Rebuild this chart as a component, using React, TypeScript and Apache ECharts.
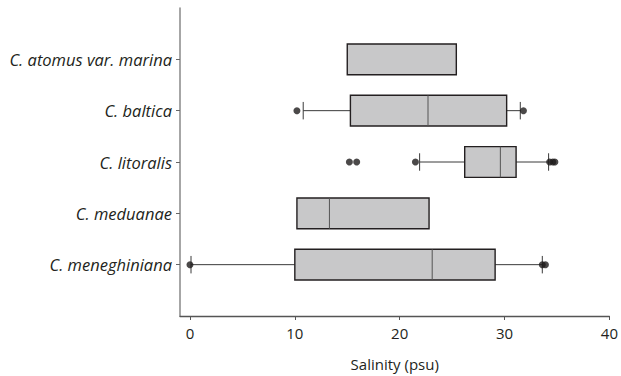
import React, { useEffect, useRef } from "react";
import * as echarts from "echarts";

const categories = [
  "C. meneghiniana",
  "C. meduanae",
  "C. litoralis",
  "C. baltica",
  "C. atomus var. marina",
];
const categoryPositions = [1, 2, 3, 4, 5];
// [position, whiskerLow, q1, median, q3, whiskerHigh]
const boxes: (number | null)[][] = [
  [1, 0.1, 10.0, 23.1, 29.1, 33.6],
  [2, 10.2, 10.2, 13.3, 22.8, 22.8],
  [3, 21.9, 26.2, 29.6, 31.1, 34.2],
  [4, 10.8, 15.3, 22.7, 30.2, 31.5],
  [5, 15.0, 15.0, null, 25.4, 25.4],
];
// [value, position]
const outliers = [
  [0.0, 1], [33.6, 1], [33.9, 1],
  [21.5, 3], [15.2, 3], [15.9, 3], [34.3, 3], [34.6, 3], [34.8, 3],
  [10.2, 4], [31.8, 4],
];
const xTicks = [0, 10, 20, 30, 40];
const xTitle = "Salinity (psu)";

const FONT = "'Open Sans', 'Noto Sans', sans-serif";
const TEXT = "#231f20";

export default function App() {
  const ref = useRef<HTMLDivElement>(null);
  useEffect(() => {
    if (!ref.current) return;
    document.body.style.margin = "0";
    const chart = echarts.init(ref.current, null, { renderer: "svg" });
    const boxHalf = 0.3;
    const capHalf = 0.17;
    chart.setOption({
      animation: false,
      grid: { left: 180, right: 10, top: 8, bottom: 54 },
      xAxis: {
        type: "value",
        min: -0.95,
        max: 40,
        name: xTitle,
        nameLocation: "middle",
        nameGap: 40,
        nameTextStyle: { fontFamily: FONT, fontSize: 15, color: TEXT },
        axisLine: { show: true, lineStyle: { color: "#555", width: 1.3 } },
        axisTick: { show: true, length: 4, customValues: xTicks, lineStyle: { color: "#555" } },
        axisLabel: { customValues: xTicks, fontFamily: FONT, fontSize: 15, color: TEXT, margin: 9 },
        splitLine: { show: false },
      },
      yAxis: {
        type: "value",
        min: 0,
        max: 6,
        axisLine: { show: true, onZero: false, lineStyle: { color: "#888", width: 1.5 } },
        axisTick: { show: true, length: 4, customValues: categoryPositions, lineStyle: { color: "#666" } },
        axisLabel: {
          customValues: categoryPositions,
          formatter: (v: number) => categories[Math.round(v) - 1] ?? "",
          fontFamily: FONT,
          fontStyle: "italic",
          fontSize: 16.5,
          color: TEXT,
          margin: 8,
        },
        splitLine: { show: false },
      },
      series: [
        {
          type: "custom",
          data: boxes,
          encode: { x: [1, 2, 3, 4, 5], y: 0 },
          renderItem: (params: any, api: any) => {
            const pos = api.value(0);
            const lo = api.value(1);
            const q1 = api.value(2);
            const med = api.value(3);
            const q3 = api.value(4);
            const hi = api.value(5);
            const pLo = api.coord([lo, pos]);
            const pQ1 = api.coord([q1, pos]);
            const pQ3 = api.coord([q3, pos]);
            const pHi = api.coord([hi, pos]);
            const top = api.coord([q1, pos + boxHalf])[1];
            const bot = api.coord([q1, pos - boxHalf])[1];
            const capT = api.coord([q1, pos + capHalf])[1];
            const capB = api.coord([q1, pos - capHalf])[1];
            const children: any[] = [];
            const wStyle = { stroke: "#3a3a3a", lineWidth: 1 };
            if (lo < q1) {
              children.push({ type: "line", shape: { x1: pLo[0], y1: pLo[1], x2: pQ1[0], y2: pQ1[1] }, style: wStyle });
              children.push({ type: "line", shape: { x1: pLo[0], y1: capT, x2: pLo[0], y2: capB }, style: wStyle });
            }
            if (hi > q3) {
              children.push({ type: "line", shape: { x1: pQ3[0], y1: pQ3[1], x2: pHi[0], y2: pHi[1] }, style: wStyle });
              children.push({ type: "line", shape: { x1: pHi[0], y1: capT, x2: pHi[0], y2: capB }, style: wStyle });
            }
            children.push({
              type: "rect",
              shape: { x: pQ1[0], y: top, width: pQ3[0] - pQ1[0], height: bot - top },
              style: { fill: "#c8c8c9", stroke: "#231f20", lineWidth: 1.4 },
            });
            if (med != null && !isNaN(med)) {
              const pm = api.coord([med, pos]);
              children.push({ type: "line", shape: { x1: pm[0], y1: top, x2: pm[0], y2: bot }, style: { stroke: "#555", lineWidth: 1 } });
            }
            return { type: "group", children };
          },
          z: 2,
        },
        {
          type: "scatter",
          data: outliers,
          symbol: "circle",
          symbolSize: 7,
          itemStyle: { color: "#1e1b1c" },
          z: 3,
        },
      ],
    });
    return () => chart.dispose();
  }, []);
  return <div ref={ref} style={{ width: 621, height: 376 }} />;
}
